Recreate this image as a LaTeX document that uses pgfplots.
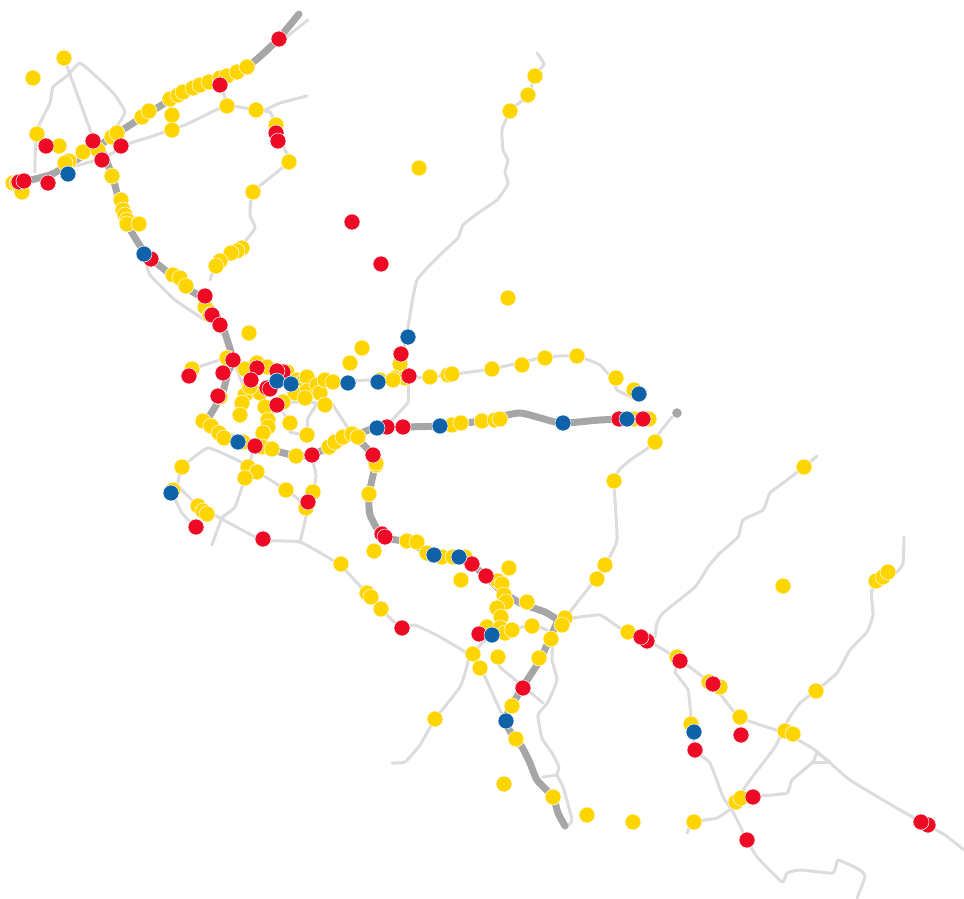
\documentclass[border=0pt]{standalone}
\usepackage{pgfplots}
\pgfplotsset{compat=1.18}
\definecolor{roadlight}{HTML}{DCDCDC}
\definecolor{roaddark}{HTML}{A6A6A6}
\definecolor{dotyellow}{HTML}{FFD500}
\definecolor{dotred}{HTML}{EE0A24}
\definecolor{dotblue}{HTML}{0F62A8}
\pgfplotsset{
  light/.style={no marks,smooth,tension=0.25,color=roadlight,line width=3pt,line join=round,line cap=round},
  dark/.style={no marks,smooth,tension=0.3,color=roaddark,line width=7pt,line join=round,line cap=round},
  dots/.style={only marks,mark=*,mark size=8pt,mark options={fill=#1,draw=white,line width=0.5pt}}
}
\begin{document}
\begin{tikzpicture}
\begin{axis}[
  hide axis,scale only axis,
  width=964pt,height=899pt,
  xmin=0,xmax=964,ymin=0,ymax=899,
  y dir=reverse]
% minor roads
\addplot[light] coordinates {(64,58)(92,135)};
\addplot[light] coordinates {(35,172)(35,160)(37,130)(50,103)(53,87)(68,75)(80,63)(100,80)(115,95)(125,112)(118,125)(115,135)};
\addplot[light] coordinates {(50,176)(68,168)(90,162)(105,158)(125,145)(150,137)(170,130)(185,125)(220,108)(228,105)(255,110)(270,112)(276,125)(285,150)(289,162)(253,192)(250,215)(255,228)(240,247)(216,265)(210,280)};
\addplot[light] coordinates {(265,110)(280,103)(307,96)};
\addplot[light] coordinates {(220,85)(228,105)};
\addplot[light] coordinates {(255,60)(285,38)(308,20)};
\addplot[light] coordinates {(145,258)(150,275)(175,300)(205,320)};
\addplot[light] coordinates {(190,370)(228,358)(255,370)(275,375)};
\addplot[light] coordinates {(233,360)(245,390)};
\addplot[light] coordinates {(280,402)(316,403)(308,418)(307,435)};
\addplot[light] coordinates {(283,413)(290,422)(290,432)(307,435)};
\addplot[light] coordinates {(291,384)(318,393)(330,401)(348,428)};
\addplot[light] coordinates {(408,378)(408,402)(392,420)};
\addplot[light] coordinates {(311,455)(316,475)(312,500)(307,505)};
\addplot[light] coordinates {(182,467)(208,448)(243,463)(286,490)(307,508)(300,542)};
\addplot[light] coordinates {(212,545)(222,518)(235,507)(245,478)(252,455)};
\addplot[light] coordinates {(182,467)(178,485)(198,506)(220,518)(262,540)(300,542)(340,565)(368,595)(381,609)(401,628)(415,625)(440,637)(465,652)(468,662)(460,687)(435,719)(420,745)(405,762)(392,763)};
\addplot[light] coordinates {(172,493)(182,513)(195,527)};
\addplot[light] coordinates {(491,635)(473,653)(480,668)(485,677)(500,710)(516,740)};
\addplot[light] coordinates {(497,657)(500,667)(513,678)(530,692)(543,703)};
\addplot[light] coordinates {(553,640)(552,660)(557,680)(548,702)(538,715)(542,738)(552,753)(559,767)(557,775)(563,787)(572,820)(566,827)};
\addplot[light] coordinates {(557,775)(543,777)};
\addplot[light] coordinates {(510,630)(532,625)(547,630)};
\addplot[light] coordinates {(565,618)(587,590)(605,565)(617,540)(614,481)(620,469)(633,458)(648,448)(660,432)(672,417)};
\addplot[light] coordinates {(573,618)(600,615)(620,628)(647,640)(680,660)(713,685)(739,717)(785,733)(815,750)(850,780)(900,810)(920,821)(945,835)(964,850)};
\addplot[light] coordinates {(680,660)(675,672)(688,690)(691,717)(695,750)(710,763)(723,797)(732,810)(747,840)(757,857)(782,882)(787,873)(800,870)(833,873)(838,860)(860,870)(865,877)(857,898)};
\addplot[light] coordinates {(687,833)(693,822)(717,818)(732,808)};
\addplot[light] coordinates {(735,802)(750,780)(775,747)(788,720)(800,703)(817,690)(837,673)(850,650)(867,632)(873,615)(872,590)(897,572)(903,563)(904,537)};
\addplot[light] coordinates {(760,796)(787,793)(792,780)(813,762)(817,753)(830,762)};
\addplot[light] coordinates {(813,762)(830,762)};
\addplot[light] coordinates {(655,637)(657,623)(663,613)(695,587)(708,567)(720,553)(738,537)(743,520)(763,510)(770,493)(787,480)(804,467)(817,456)};
\addplot[light] coordinates {(537,53)(544,64)(535,76)(528,95)(510,111)(502,130)(503,150)(508,160)(505,172)(508,184)(497,200)(478,213)(463,225)(458,238)(443,252)(428,267)(417,280)(413,297)(408,327)(403,355)(408,378)};
\addplot[light] coordinates {(291,384)(408,378)(430,377)(492,369)(545,357)(577,356)(600,365)(613,380)(617,390)(633,398)};
% main roads
\addplot[dark] coordinates {(18,183)(50,175)(68,165)(100,145)(130,125)(170,100)(195,87)(220,78)(247,67)(265,52)(280,37)(299,14)};
\addplot[dark] coordinates {(100,145)(112,175)(125,220)(145,253)(165,270)(190,290)(205,300)(222,325)(233,360)(228,372)(222,395)(207,420)};
\addplot[dark] coordinates {(207,420)(237,442)(255,446)(280,452)(296,456)(311,455)(330,447)(355,436)(376,428)(440,426)(480,421)(520,413)(560,423)(600,420)(645,418)};
\addplot[dark] coordinates {(355,436)(373,455)(375,465)(369,495)(370,515)(383,537)(408,542)(434,555)(458,558)(472,565)(487,577)(500,590)(520,603)(545,612)(558,620)};
\addplot[dark] coordinates {(558,620)(540,660)(522,688)(505,720)(516,740)(522,747)(530,763)(537,780)(553,797)(558,813)(565,826)};
\addplot[only marks,mark=*,mark size=4.5pt,color=roaddark] coordinates {(677,413)};
% yellow
\addplot[dots=dotyellow] coordinates {
(33,78)(64,58)(37,134)(59,146)(83,152)(69,161)(65,163)(13,183)(17,183)(22,192)
(112,137)(117,133)(98,150)(112,176)(121,200)(123,210)(125,215)(127,220)(127,224)(139,224)
(142,117)(149,111)(170,99)(178,95)(183,92)(193,88)(200,85)(209,82)(220,78)(227,76)(237,72)(247,67)
(172,115)(172,130)(227,106)(256,110)(276,125)(289,162)(253,192)(242,248)(237,251)(231,253)(220,261)(216,266)
(173,275)(180,278)(186,286)(205,307)(210,315)(249,333)(362,348)(350,363)(419,168)(510,111)(528,95)(535,76)(508,298)
(400,364)(395,378)(405,378)(192,369)(227,358)(220,397)(245,369)(257,363)(267,367)(287,372)
(245,395)(242,403)(240,415)(260,393)(250,387)(297,380)(303,382)(302,390)(295,393)(307,377)(307,391)(305,398)
(317,385)(320,393)(325,380)(333,382)(325,405)(283,402)(268,408)(265,407)(268,420)(268,427)(263,433)(290,423)(307,435)
(203,421)(211,426)(219,433)(224,438)(243,442)(262,447)(272,449)(296,456)(329,447)(335,442)(343,437)(352,434)(358,437)
(376,465)(376,463)(182,467)(173,490)(198,506)(203,511)(207,514)(248,467)(257,472)(245,478)(286,490)(313,492)(306,508)
(341,564)(367,593)(371,597)(381,609)(374,551)(407,541)(417,542)(369,494)(427,553)(442,557)(453,557)(465,557)
(461,580)(509,568)(498,581)(502,584)(504,595)(506,602)(497,608)(501,617)(527,602)(532,626)(487,627)(500,628)(505,633)(512,630)
(473,654)(480,668)(498,657)(565,618)(562,625)(551,639)(539,658)(597,579)(605,565)
(512,706)(516,739)(504,784)(553,797)(587,815)(633,822)(694,822)(435,719)(655,442)(614,481)(804,467)(783,586)(876,581)(883,577)(888,572)(816,691)
(380,380)(393,380)(430,377)(448,375)(452,374)(492,369)(522,365)(545,358)(577,356)(616,378)(634,390)
(452,425)(461,423)(482,421)(495,420)(500,419)(634,419)(649,419)
(677,657)(709,682)(720,687)(740,717)(691,724)(785,731)(793,734)(736,802)(741,798)(628,632)
};
% red
\addplot[dots=dotred] coordinates {
(279,39)(220,85)(93,141)(121,146)(46,146)(102,160)(48,183)(19,182)(24,181)(276,133)(278,141)(151,259)
(205,296)(212,315)(220,325)(352,222)(381,264)(401,354)(409,376)(233,360)(189,376)(223,373)(218,396)
(257,368)(251,380)(283,372)(277,371)(267,388)(270,389)(277,405)(255,446)(312,455)(387,427)(403,427)(373,455)
(196,527)(308,502)(263,539)(402,628)(382,534)(385,537)(472,564)(486,576)(479,634)(523,688)
(619,419)(643,419)(680,661)(713,684)(741,735)(695,750)(753,797)(747,840)(928,825)(921,822)(647,641)(641,637)
};
% blue
\addplot[dots=dotblue] coordinates {
(68,174)(144,254)(408,337)(378,382)(348,383)(277,381)(291,384)(238,442)(377,428)(171,493)(434,555)(459,557)
(492,635)(506,721)(440,426)(563,423)(627,419)(639,394)(694,732)
};
\end{axis}
\path[use as bounding box] (current axis.south west) rectangle (current axis.north east);
\end{tikzpicture}
\end{document}
